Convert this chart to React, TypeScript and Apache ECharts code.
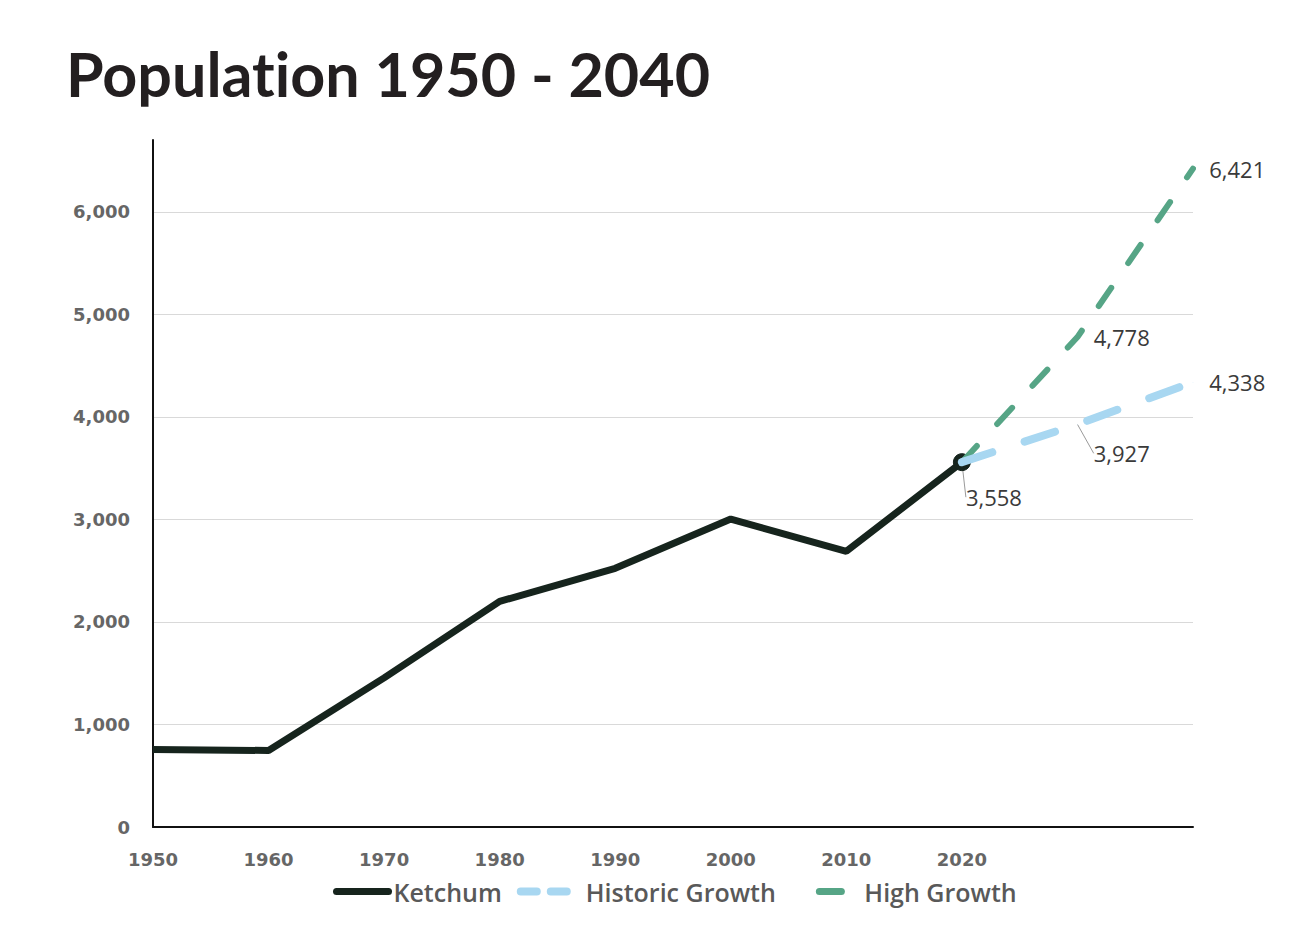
import React, { useEffect, useRef } from "react";
import * as echarts from "echarts";

const title = "Population 1950 - 2040";
const ketchumYears = [1950, 1960, 1970, 1980, 1990, 2000, 2010, 2020];
const ketchumValues = [757, 746, 1454, 2200, 2523, 3003, 2689, 3558];
const projYears = [2020, 2030, 2040];
const historicValues = [3558, 3927, 4338];
const highValues = [3558, 4778, 6421];
const seriesNames = ["Ketchum", "Historic Growth", "High Growth"];

const fmt = (v: number) => v.toLocaleString("en-US");
const FONT = "'Open Sans', 'Noto Sans', sans-serif";
const TICKFONT = "'DejaVu Sans', sans-serif";

export default function App() {
  const ref = useRef<HTMLDivElement>(null);
  useEffect(() => {
    if (!ref.current) return;
    const chart = echarts.init(ref.current, null, { renderer: "svg" });
    const labelStyle = {
      fontFamily: FONT,
      fontSize: 22,
      fontWeight: 500,
      color: "#3a3a3a",
    };
    const last = ketchumYears.length - 1;
    chart.setOption({
      animation: false,
      backgroundColor: "#ffffff",
      title: {
        text: title,
        left: 53,
        top: 30,
        textStyle: {
          fontFamily: "Lato, 'Open Sans', sans-serif",
          fontSize: 61,
          fontWeight: 700,
          color: "#231f20",
        },
      },
      grid: { left: 145, right: 110, top: 132, bottom: 92, containLabel: false },
      legend: {
        bottom: 10,
        left: 320,
        itemWidth: 52,
        itemHeight: 8,
        itemGap: 15,
        itemStyle: { opacity: 0 },
        data: [
          {
            name: seriesNames[0],
            lineStyle: { color: "#16241d", width: 7, cap: "round", type: "solid" },
          },
          {
            name: seriesNames[1],
            lineStyle: { color: "#a8d7f1", width: 8, cap: "round", type: [16, 14] },
            textStyle: { padding: [0, 0, 0, 8] },
          },
          {
            name: seriesNames[2],
            lineStyle: { color: "#56a586", width: 7, cap: "round", type: [22, 100], dashOffset: -25 },
            textStyle: { padding: [0, 0, 0, 13] },
          },
        ],
        textStyle: {
          fontFamily: FONT,
          fontSize: 25,
          fontWeight: 600,
          color: "#595959",
        },
      },
      xAxis: {
        type: "value",
        min: 1950,
        max: 2040,
        interval: 10,
        axisLine: { show: true, lineStyle: { color: "#111", width: 2 } },
        axisTick: { show: false },
        splitLine: { show: false },
        axisLabel: {
          margin: 23,
          fontFamily: TICKFONT,
          fontSize: 18,
          fontWeight: "bold",
          color: "#666666",
          formatter: (v: number) => (v <= 2020 ? String(v) : ""),
        },
      },
      yAxis: {
        type: "value",
        min: 0,
        max: 6700,
        interval: 1000,
        axisLine: { show: true, lineStyle: { color: "#111", width: 2 } },
        axisTick: { show: false },
        splitLine: {
          show: true,
          showMinLine: false,
          showMaxLine: false,
          lineStyle: { color: "#d9d9d9", width: 1 },
        },
        axisLabel: {
          margin: 23,
          showMaxLabel: false,
          fontFamily: TICKFONT,
          fontSize: 18,
          fontWeight: "bold",
          color: "#666666",
          formatter: (v: number) => (v % 1000 === 0 ? fmt(v) : ""),
        },
      },
      series: [
        {
          name: seriesNames[0],
          type: "line",
          z: 2,
          symbol: "circle",
          showAllSymbol: true,
          data: ketchumYears.map((y, i) => ({
            value: [y, ketchumValues[i]],
            symbolSize: i === last ? 17 : 0,
            label:
              i === last
                ? { show: true, position: "bottom", formatter: () => fmt(ketchumValues[i]), ...labelStyle }
                : { show: false },
          })),
          itemStyle: { color: "#16241d", borderColor: "#16241d" },
          lineStyle: { color: "#16241d", width: 7 },
          labelLine: { show: true, lineStyle: { color: "#9a9a9a", width: 1 } },
          labelLayout: (p: any) => (p.dataIndex === last ? { dx: 32, dy: 10 } : {}),
        },
        {
          name: seriesNames[2],
          type: "line",
          z: 3,
          symbol: "circle",
          symbolSize: 0.5,
          showAllSymbol: true,
          data: projYears.map((y, i) => ({
            value: [y, highValues[i]],
            label:
              i > 0
                ? { show: true, position: "right", distance: 16, formatter: () => fmt(highValues[i]), ...labelStyle }
                : { show: false },
          })),
          itemStyle: { color: "#56a586" },
          lineStyle: { color: "#56a586", width: 6, type: [22, 30], cap: "round" },
        },
        {
          name: seriesNames[1],
          type: "line",
          z: 4,
          symbol: "circle",
          symbolSize: 0.5,
          showAllSymbol: true,
          data: projYears.map((y, i) => ({
            value: [y, historicValues[i]],
            label:
              i > 0
                ? { show: true, position: "right", distance: 16, formatter: () => fmt(historicValues[i]), ...labelStyle }
                : { show: false },
            labelLine: { show: i === 1, lineStyle: { color: "#9a9a9a", width: 1 } },
          })),
          itemStyle: { color: "#a8d7f1" },
          lineStyle: { color: "#a8d7f1", width: 8, type: [32, 34], cap: "round" },
          labelLayout: (p: any) => (p.dataIndex === 1 ? { dx: 0, dy: 29 } : {}),
        },
      ],
    });
    return () => chart.dispose();
  }, []);
  return (
    <>
      <style>{"text{font-variant-ligatures:none;font-feature-settings:'liga' 0,'clig' 0;}"}</style>
      <div ref={ref} style={{ width: 1295, height: 911 }} />
    </>
  );
}
